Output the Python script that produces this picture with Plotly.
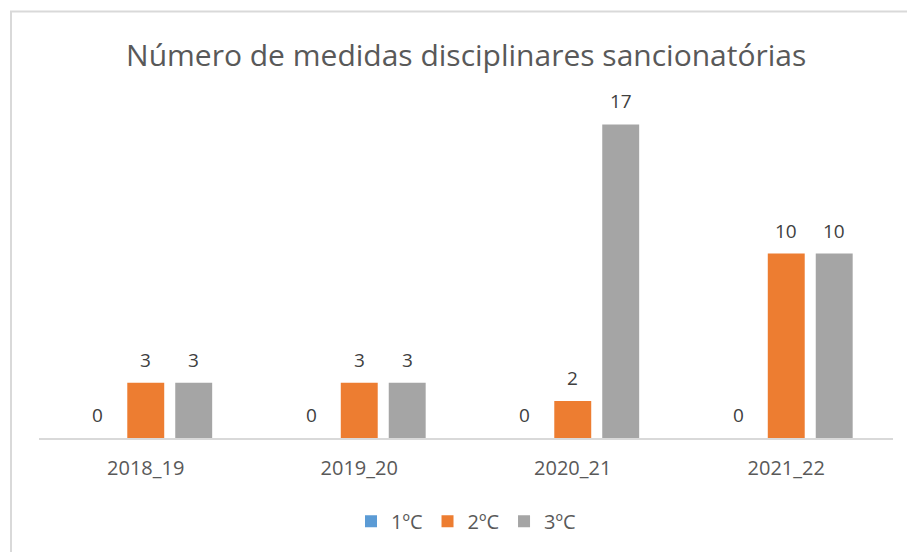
import plotly.graph_objects as go

# Data
years = ["2018_19", "2019_20", "2020_21", "2021_22"]
series_names = ["1ºC", "2ºC", "3ºC"]
vals_1c = [0, 0, 0, 0]
vals_2c = [3, 3, 2, 10]
vals_3c = [3, 3, 17, 10]

BLUE = "#5b9bd5"
ORANGE = "#ed7d31"
GRAY = "#a5a5a5"
TEXT = "#595959"
FONT = "Open Sans"

BARGAP = 0.326
# pixel width of one bar slot inside a group (plot width 854 px, 4 categories)
SLOT_PX = 854 / len(years) * (1 - BARGAP) / len(series_names)

fig = go.Figure()
series = [vals_1c, vals_2c, vals_3c]
colors = [BLUE, ORANGE, GRAY]
for i, (name, vals, color) in enumerate(zip(series_names, series, colors)):
    fig.add_trace(go.Bar(
        x=years, y=vals, name=name,
        marker=dict(color=color, line=dict(width=0)),
        hoverinfo="x+y+name",
    ))
    # data labels, Excel style (centred ~23 px above the bar end)
    for yr, v in zip(years, vals):
        fig.add_annotation(
            x=yr, y=v, xref="x", yref="y", text=str(v), showarrow=False,
            xshift=(i - 1) * SLOT_PX, yshift=23, yanchor="middle",
            font=dict(family=FONT, size=19, color="#404040"),
        )

fig.update_layout(
    width=907, height=552,
    margin=dict(l=39, r=14, t=106, b=113),
    paper_bgcolor="white", plot_bgcolor="white",
    barmode="group", bargap=BARGAP, bargroupgap=0.23,
    title=dict(text="Número de medidas disciplinares sancionatórias",
               x=0.514, xanchor="center", y=0.9, yanchor="middle",
               font=dict(family=FONT, size=30, color=TEXT)),
    xaxis=dict(showline=True, linecolor="#d9d9d9", linewidth=1.5, ticks="",
               showgrid=False, ticklabelstandoff=11,
               tickfont=dict(family=FONT, size=20, color=TEXT)),
    yaxis=dict(visible=False, range=[0, 18], showgrid=False, zeroline=False),
    legend=dict(orientation="h", x=0.5, xanchor="center", y=-0.247, yanchor="middle",
                font=dict(family=FONT, size=20, color=TEXT), itemwidth=30,
                traceorder="normal"),
    showlegend=True,
)

# chart-area border (Excel style), partially cut by the picture edges
fig.add_shape(type="rect", xref="paper", yref="paper",
              x0=-0.0328, x1=1.03, y0=-0.36, y1=1.285,
              line=dict(color="#d9d9d9", width=2), fillcolor="rgba(0,0,0,0)", layer="below")

fig.write_html("out.html", config={"displayModeBar": False},
               post_script="document.body.style.margin='0';")
